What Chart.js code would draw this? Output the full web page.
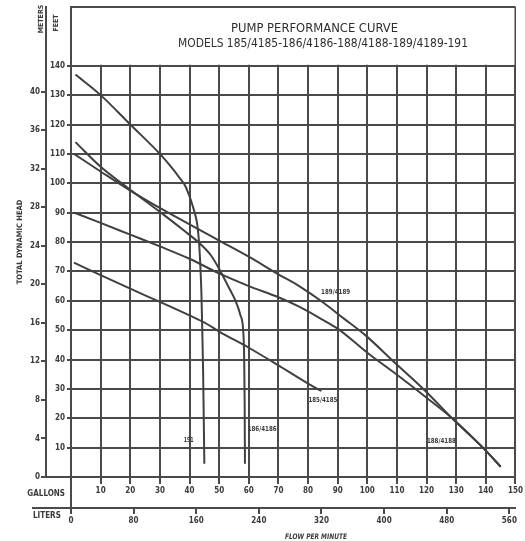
<!DOCTYPE html>
<html>
<head>
<meta charset="utf-8">
<title>Pump Performance Curve</title>
<script src="https://cdn.jsdelivr.net/npm/chart.js@4/dist/chart.umd.min.js"></script>
<style>
  html, body { margin: 0; padding: 0; background: #fff; }
  canvas { display: block; }
</style>
</head>
<body>
<canvas id="pump" width="525" height="541"></canvas>
<script>
// Axis tick values
const GALLON_TICKS = [0, 10, 20, 30, 40, 50, 60, 70, 80, 90, 100, 110, 120, 130, 140, 150];
const LITER_TICKS = [0, 80, 160, 240, 320, 400, 480, 560];
const FEET_TICKS = [0, 10, 20, 30, 40, 50, 60, 70, 80, 90, 100, 110, 120, 130, 140, 150, 160];
const METER_TICKS = [0, 4, 8, 12, 16, 20, 24, 28, 32, 36, 40];

// Pump models
const MODELS = ['191', '186/4186', '185/4185', '189/4189', '188/4188'];

// Flow (gallons per minute) and total dynamic head (feet) for each model
const FLOW_191 = [1.5, 10, 20, 30, 34, 36.5, 38.6, 40, 41, 42, 42.6, 43.2, 43.6, 44, 44.3, 44.6, 44.8, 45];
const HEAD_191 = [137, 130, 120, 110, 105.3, 102, 99, 95.5, 92.5, 89, 86, 80, 73, 63, 50, 35, 20, 4.5];

const FLOW_186 = [1.5, 10, 20, 31, 38, 44, 47.2, 50.2, 53, 55.5, 57.2, 58.1, 58.45, 58.6, 58.7];
const HEAD_186 = [114, 105.6, 97.8, 89.5, 84, 79, 75.5, 70.5, 65, 60, 55, 50, 40, 25, 4.5];

const FLOW_185 = [1, 10, 20, 30, 40, 46, 50, 60, 70, 80, 84.5];
const HEAD_185 = [73, 68.7, 64.1, 59.6, 55, 52, 49.5, 44, 38, 31.8, 29.3];

const FLOW_189 = [1, 10, 20, 31, 40, 50, 60, 70, 77, 85, 92, 99.3, 109.3, 119.6, 129.3, 139, 145];
const HEAD_189 = [110, 104, 97.5, 91, 86, 80.5, 75, 69, 65, 59.5, 54, 48.3, 38.9, 29.3, 19.3, 10, 3.5];

const FLOW_188 = [1, 10, 20, 30, 40, 50, 60, 70, 77, 85, 90, 100, 110, 120, 129, 139, 145];
const HEAD_188 = [90, 86.5, 82.5, 78.5, 74.3, 69.3, 65, 61.2, 58, 53.5, 50.5, 42.3, 34.8, 27, 19.7, 10, 3.5];

const FLOWS = [FLOW_191, FLOW_186, FLOW_185, FLOW_189, FLOW_188];
const HEADS = [HEAD_191, HEAD_186, HEAD_185, HEAD_189, HEAD_188];

// Unit conversions for the secondary scales
const FT_PER_M = 3.28084;
const L_PER_GAL = 3.78541;

const INK = '#3a3a3a';
const GRID = '#4a4a4a';
const NARROW = '"Liberation Sans Narrow", "DejaVu Sans Condensed", "Arial Narrow", sans-serif';

// Where each model name is written, in (gpm, ft)
const NAME_SPOTS = {
  '191':      [39.7, 12.5],
  '186/4186': [64.5, 16.4],
  '185/4185': [85, 26],
  '189/4189': [89.3, 63],
  '188/4188': [125, 12.3]
};

const datasets = MODELS.map((name, i) => ({
  label: name,
  data: FLOWS[i].map((f, k) => ({ x: f, y: HEADS[i][k] })),
  borderColor: '#404040',
  borderWidth: 2,
  pointRadius: 0,
  cubicInterpolationMode: 'monotone',
  fill: false
}));

const fixedSize = (w, h) => (scale) => {
  if (w != null) scale.width = w;
  if (h != null) scale.height = h;
};

const setTicks = (values) => (scale) => {
  scale.ticks = values.map(v => ({ value: v }));
};

const hidden = 'rgba(0,0,0,0)';

// text squeezed or stretched to a given width
function fitText(ctx, txt, cx, cy, width) {
  const w = ctx.measureText(txt).width;
  ctx.save();
  ctx.translate(cx, cy);
  ctx.scale(width / w, 1);
  ctx.fillText(txt, 0, 0);
  ctx.restore();
}

const panelAndNotes = {
  id: 'panelAndNotes',
  beforeDatasetsDraw(chart) {
    const { ctx, chartArea: a, scales } = chart;
    const y140 = scales.y.getPixelForValue(140);
    // title panel above the 140 ft line is left blank
    ctx.save();
    ctx.fillStyle = '#fff';
    ctx.fillRect(a.left + 1, a.top + 1, a.right - a.left - 2, y140 - a.top - 2);
    ctx.restore();
  },
  afterDraw(chart) {
    const { ctx, chartArea: a, scales } = chart;
    const { x, y, y2, x2 } = scales;
    ctx.save();
    ctx.strokeStyle = GRID;
    ctx.lineWidth = 2;

    // zero-head line runs across to the meters axis
    const y0 = y.getPixelForValue(0);
    ctx.beginPath();
    ctx.moveTo(y2.right, y0);
    ctx.lineTo(a.left, y0);
    // left edge continues down to the liters axis
    ctx.moveTo(a.left, a.bottom);
    ctx.lineTo(a.left, x2.top);
    // liters axis line extends under the unit captions
    ctx.moveTo(32, x2.top);
    ctx.lineTo(a.left, x2.top);
    ctx.stroke();

    // Title
    ctx.fillStyle = '#2e2e2e';
    ctx.textAlign = 'center';
    ctx.textBaseline = 'middle';
    ctx.font = '500 13px ' + NARROW;
    fitText(ctx, 'PUMP PERFORMANCE CURVE', a.left + 243.5, a.top + 22, 167);
    fitText(ctx, 'MODELS 185/4185-186/4186-188/4188-189/4189-191', a.left + 252, a.top + 37, 290);

    // Model names next to their curves
    ctx.font = 'bold 7px ' + NARROW;
    ctx.fillStyle = INK;
    Object.entries(NAME_SPOTS).forEach(([name, [g, h]]) => {
      const px = x.getPixelForValue(g), py = y.getPixelForValue(h);
      if (name.length > 3) fitText(ctx, name, px, py, 29);
      else fitText(ctx, name, px, py, 10);
    });

    // Unit captions
    ctx.font = 'bold 8px ' + NARROW;
    ctx.textAlign = 'right';
    ctx.fillText('GALLONS', a.left - 6, a.bottom + 17);
    ctx.textAlign = 'left';
    ctx.fillText('LITERS', 33, x2.top + 8);
    ctx.textAlign = 'center';
    ctx.font = 'italic bold 7.5px ' + NARROW;
    fitText(ctx, 'FLOW PER MINUTE', 316, x2.top + 29, 62);

    // Rotated captions
    const vtext = (txt, cx, cy) => {
      ctx.save();
      ctx.translate(cx, cy);
      ctx.rotate(-Math.PI / 2);
      ctx.fillText(txt, 0, 0);
      ctx.restore();
    };
    ctx.font = 'bold 7px ' + NARROW;
    vtext('METERS', y2.right - 5, a.top + 12);
    vtext('FEET', y2.right + 10, a.top + 16);
    ctx.font = 'bold 7.5px ' + NARROW;
    vtext('TOTAL DYNAMIC HEAD', 20, 242);
    ctx.restore();
  }
};

const tickFont = { family: NARROW, size: 8, weight: 'bold' };

new Chart(document.getElementById('pump'), {
  type: 'line',
  data: { datasets },
  plugins: [panelAndNotes],
  options: {
    responsive: false,
    animation: false,
    devicePixelRatio: 1,
    layout: { padding: { top: 7, right: 9, left: 0, bottom: 0 } },
    plugins: { legend: { display: false }, tooltip: { enabled: false } },
    scales: {
      x: {
        type: 'linear', position: 'bottom', weight: 0,
        min: 0, max: 150,
        afterBuildTicks: setTicks(GALLON_TICKS),
        afterFit: fixedSize(null, 31),
        grid: { color: GRID, lineWidth: 2, tickLength: 7, tickColor: GRID },
        border: { color: GRID, width: 2 },
        ticks: {
          font: tickFont, color: INK, padding: 2, maxRotation: 0, autoSkip: false,
          callback: v => (v === 0 ? '' : v)
        }
      },
      x2: {
        type: 'linear', position: 'bottom', weight: 1,
        min: 0, max: 150 * L_PER_GAL,
        afterBuildTicks: setTicks(LITER_TICKS),
        afterFit: fixedSize(null, 33),
        grid: { drawOnChartArea: false, lineWidth: 2, tickLength: 6, tickColor: GRID },
        border: { color: GRID, width: 2 },
        ticks: { font: tickFont, color: INK, padding: 2, maxRotation: 0, autoSkip: false }
      },
      y: {
        type: 'linear', position: 'left', weight: 0,
        min: 0, max: 160,
        afterBuildTicks: setTicks(FEET_TICKS),
        afterFit: fixedSize(25, null),
        grid: {
          lineWidth: 2, tickLength: 4,
          color: c => (c.tick && c.tick.value === 150 ? hidden : GRID),
          tickColor: c => (c.tick && (c.tick.value > 140 || c.tick.value === 0) ? hidden : GRID)
        },
        border: { color: GRID, width: 2 },
        ticks: {
          font: tickFont, color: INK, padding: 2,
          callback: v => (v === 0 || v > 140 ? '' : v)
        }
      },
      y2: {
        type: 'linear', position: 'left', weight: 1,
        min: 0, max: 160 / FT_PER_M,
        afterBuildTicks: setTicks(METER_TICKS),
        afterFit: fixedSize(46, null),
        grid: { drawOnChartArea: false, lineWidth: 2, tickLength: 5, tickColor: GRID },
        border: { color: GRID, width: 2 },
        ticks: { font: tickFont, color: INK, padding: 1 }
      }
    }
  }
});
</script>
</body>
</html>
